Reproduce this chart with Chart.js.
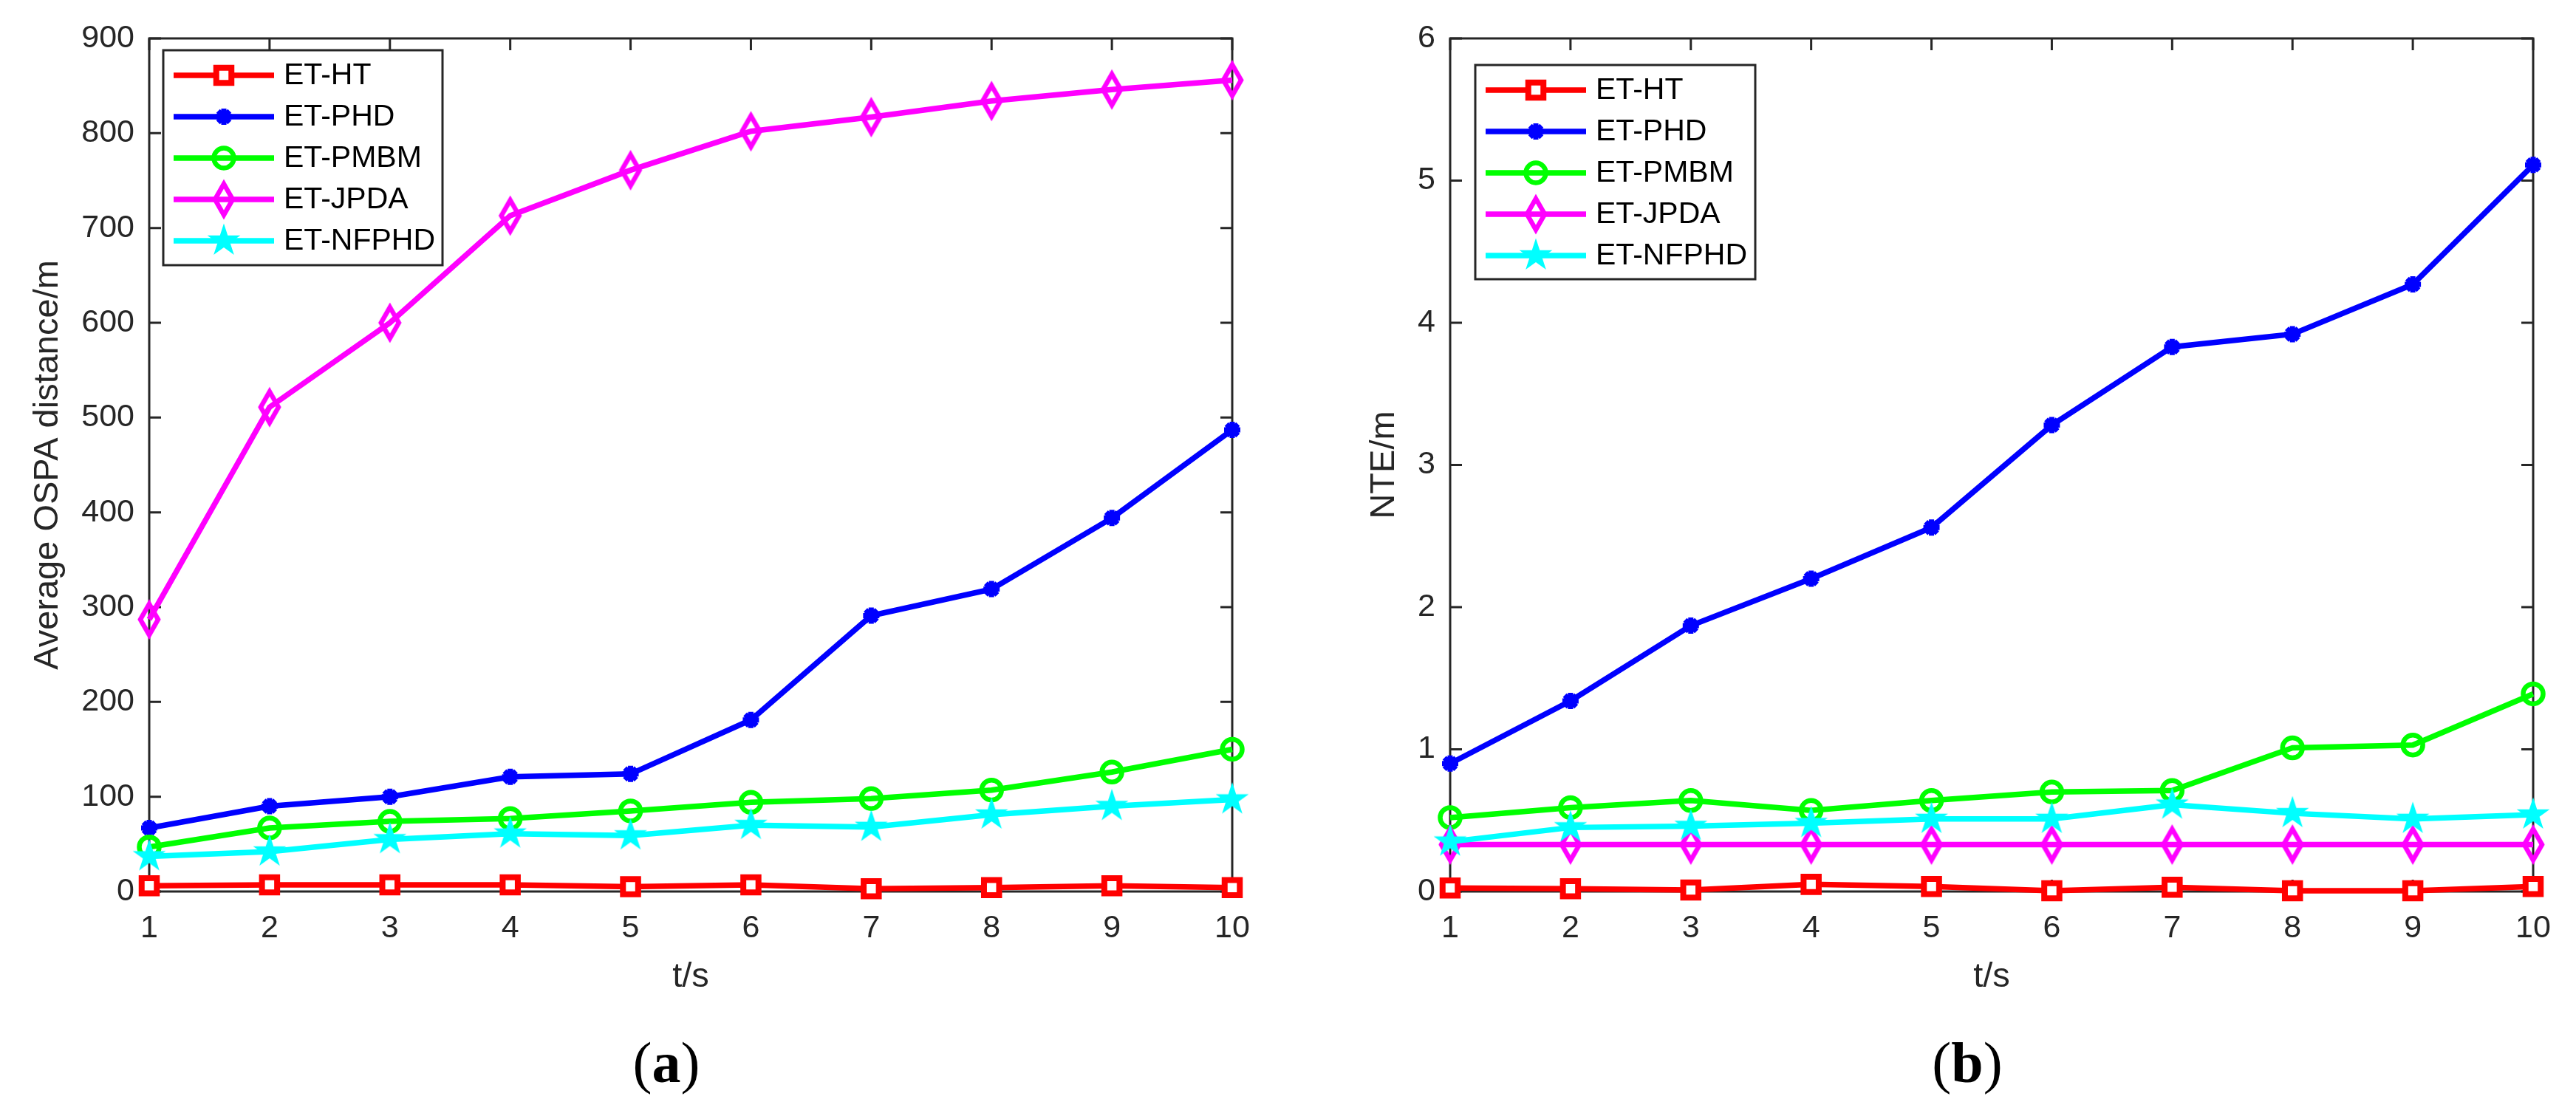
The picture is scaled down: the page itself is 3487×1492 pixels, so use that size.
<!DOCTYPE html>
<html>
<head>
<meta charset="utf-8">
<script src="https://cdn.jsdelivr.net/npm/chart.js@4.4.1/dist/chart.umd.min.js"></script>
<style>
  body { margin: 0; background: #fff; width: 3487px; height: 1492px; overflow: hidden; position: relative; }
  canvas { position: absolute; top: 0; }
  .sub { position: absolute; top: 1400px; width: 400px; text-align: center;
         font-family: 'Liberation Serif', 'Times New Roman', serif; font-size: 78px; line-height: 78px; color: #000; }
</style>
</head>
<body>
<canvas id="ospaChart" width="1740" height="1492" style="left:0px"></canvas>
<canvas id="nteChart" width="1742" height="1492" style="left:1745px"></canvas>
<div class="sub" style="left:702px">(<b>a</b>)</div>
<div class="sub" style="left:2463px">(<b>b</b>)</div>
<script>
// time steps (x axis)
var steps = ['1', '2', '3', '4', '5', '6', '7', '8', '9', '10'];
var names = ['ET-HT', 'ET-PHD', 'ET-PMBM', 'ET-JPDA', 'ET-NFPHD'];

// (a) average OSPA distance / m
var htOspa    = [6, 7, 7, 7, 5, 7, 3, 4, 6, 4];
var phdOspa   = [67, 90, 100, 121, 124, 181, 291, 319, 394, 487];
var pmbmOspa  = [47, 67, 74, 77, 85, 94, 98, 107, 126, 150];
var jpdaOspa  = [287, 511, 600, 713, 761, 802, 817, 834, 846, 856];
var nfphdOspa = [37, 42, 55, 61, 59, 70, 68, 81, 90, 97];

// (b) NTE / m
var htNte    = [0.025, 0.02, 0.01, 0.05, 0.035, 0.005, 0.03, 0.005, 0.005, 0.035];
var phdNte   = [0.9, 1.34, 1.87, 2.2, 2.56, 3.28, 3.83, 3.92, 4.27, 5.11];
var pmbmNte  = [0.52, 0.59, 0.64, 0.57, 0.64, 0.7, 0.71, 1.01, 1.03, 1.39];
var jpdaNte  = [0.33, 0.33, 0.33, 0.33, 0.33, 0.33, 0.33, 0.33, 0.33, 0.33];
var nfphdNte = [0.35, 0.45, 0.46, 0.48, 0.51, 0.51, 0.61, 0.55, 0.51, 0.54];

var FONT = "'Liberation Sans', Arial, Helvetica, sans-serif";
var AXIS = '#262626';

// marker shapes that Chart.js doesn't have: tall diamond and pentagram
function makeDiamond(color) {
    var c = document.createElement('canvas');
    c.width = 44; c.height = 60;
    var g = c.getContext('2d');
    g.strokeStyle = color; g.lineWidth = 6.5; g.lineJoin = 'miter';
    g.beginPath();
    g.moveTo(22, 9); g.lineTo(34, 30); g.lineTo(22, 51); g.lineTo(10, 30);
    g.closePath(); g.stroke();
    return c;
}
function makePentagram(color) {
    var c = document.createElement('canvas');
    c.width = 54; c.height = 54;
    var g = c.getContext('2d');
    var R = 23.5, r = R * 0.382, cx = 27, cy = 27;
    g.fillStyle = color;
    g.beginPath();
    for (var k = 0; k < 10; k++) {
        var a = -Math.PI / 2 + k * Math.PI / 5;
        var rr = k % 2 ? r : R;
        g.lineTo(cx + rr * Math.cos(a), cy + rr * Math.sin(a));
    }
    g.closePath(); g.fill();
    return c;
}
var diamond = makeDiamond('#ff00ff');
var pentagram = makePentagram('#00ffff');

function series(values) {
    var styles = [
        {color: '#ff0000', pointStyle: 'rect', radius: 14.5, pbw: 8, fill: '#ffffff'},
        {color: '#0000ff', pointStyle: 'star', radius: 11, pbw: 7, fill: '#0000ff'},
        {color: '#00ff00', pointStyle: 'circle', radius: 13.5, pbw: 6.5, fill: 'rgba(0,0,0,0)'},
        {color: '#ff00ff', pointStyle: diamond, radius: 20, pbw: 0, fill: '#ff00ff'},
        {color: '#00ffff', pointStyle: pentagram, radius: 20, pbw: 0, fill: '#00ffff'}
    ];
    return values.map(function(v, i) {
        var s = styles[i];
        return {
            label: names[i],
            data: v,
            borderColor: s.color,
            borderWidth: 7.5,
            pointStyle: s.pointStyle,
            pointRadius: s.radius,
            pointHoverRadius: s.radius,
            pointBorderColor: s.color,
            pointBackgroundColor: s.fill,
            pointBorderWidth: s.pbw,
            tension: 0,
            clip: false,
            order: 4 - i   // later series drawn on top, like MATLAB
        };
    });
}

// box + inward ticks on all four sides
var framePlugin = {
    id: 'frame',
    beforeDatasetsDraw: function(chart) {
        var ctx = chart.ctx, a = chart.chartArea;
        var xs = chart.scales.x, ys = chart.scales.y;
        ctx.save();
        ctx.strokeStyle = AXIS;
        ctx.lineWidth = 3;
        ctx.beginPath();
        xs.ticks.forEach(function(t, i) {
            var px = xs.getPixelForTick(i);
            ctx.moveTo(px, a.bottom); ctx.lineTo(px, a.bottom - 16);
            ctx.moveTo(px, a.top); ctx.lineTo(px, a.top + 16);
        });
        ys.ticks.forEach(function(t, i) {
            var py = ys.getPixelForTick(i);
            ctx.moveTo(a.left, py); ctx.lineTo(a.left + 16, py);
            ctx.moveTo(a.right, py); ctx.lineTo(a.right - 16, py);
        });
        ctx.stroke();
        ctx.strokeRect(a.left, a.top, a.right - a.left, a.bottom - a.top);
        ctx.restore();
    }
};

// legend box inside the axes (top-left)
var legendPlugin = {
    id: 'boxLegend',
    afterDraw: function(chart, args, opts) {
        var ctx = chart.ctx, a = chart.chartArea;
        var x0 = a.left + opts.dx, y0 = a.top + opts.dy;
        ctx.save();
        ctx.fillStyle = '#ffffff';
        ctx.fillRect(x0, y0, opts.w, opts.h);
        ctx.strokeStyle = AXIS;
        ctx.lineWidth = 3;
        ctx.strokeRect(x0, y0, opts.w, opts.h);
        chart.data.datasets.forEach(function(ds, i) {
            var y = y0 + 34 + i * 56;
            ctx.strokeStyle = ds.borderColor;
            ctx.lineWidth = ds.borderWidth;
            ctx.beginPath();
            ctx.moveTo(x0 + 14, y); ctx.lineTo(x0 + 150, y);
            ctx.stroke();
            ctx.strokeStyle = ds.pointBorderColor;
            ctx.fillStyle = ds.pointBackgroundColor;
            ctx.lineWidth = ds.pointBorderWidth;
            Chart.helpers.drawPoint(ctx, {
                pointStyle: ds.pointStyle, radius: ds.pointRadius,
                borderWidth: ds.pointBorderWidth, rotation: 0
            }, x0 + 82, y);
            ctx.fillStyle = '#000000';
            ctx.font = '41px ' + FONT;
            ctx.textAlign = 'left';
            ctx.textBaseline = 'middle';
            ctx.fillText(ds.label, x0 + 163, y + 1);
        });
        ctx.restore();
    }
};

function makeChart(id, values, yMax, yStep, yTitle, yWidth, yTitlePad, padRight, legend) {
    return new Chart(document.getElementById(id), {
        type: 'line',
        data: { labels: steps, datasets: series(values) },
        options: {
            responsive: false,
            animation: false,
            devicePixelRatio: 1,
            layout: { padding: { top: 52, right: padRight, left: 0, bottom: 0 } },
            plugins: {
                legend: { display: false },
                tooltip: { enabled: false },
                boxLegend: legend
            },
            scales: {
                x: {
                    type: 'category',
                    offset: false,
                    grid: { display: false, drawTicks: false },
                    border: { display: false },
                    ticks: { color: AXIS, font: { family: FONT, size: 43 }, padding: 24, maxRotation: 0, autoSkip: false },
                    title: { display: true, text: 't/s', color: AXIS, font: { family: FONT, size: 47 }, padding: { top: 0, bottom: 141 } },
                    afterFit: function(s) { s.height = 1492 - 1207; }
                },
                y: {
                    min: 0, max: yMax,
                    grid: { display: false, drawTicks: false },
                    border: { display: false },
                    ticks: { stepSize: yStep, color: AXIS, font: { family: FONT, size: 43 }, padding: 20 },
                    title: { display: true, text: yTitle, color: AXIS, font: { family: FONT, size: 47 }, padding: { top: yTitlePad, bottom: 0 } },
                    afterFit: function(s) { s.width = yWidth; }
                }
            }
        },
        plugins: [framePlugin, legendPlugin]
    });
}

makeChart('ospaChart', [htOspa, phdOspa, pmbmOspa, jpdaOspa, nfphdOspa], 900, 100,
    'Average OSPA distance/m', 202, 37, 72, { dx: 19, dy: 16, w: 378, h: 291 });
makeChart('nteChart', [htNte, phdNte, pmbmNte, jpdaNte, nfphdNte], 6, 1,
    'NTE/m', 218, 101, 58, { dx: 34, dy: 36, w: 379, h: 290 });
</script>
</body>
</html>
